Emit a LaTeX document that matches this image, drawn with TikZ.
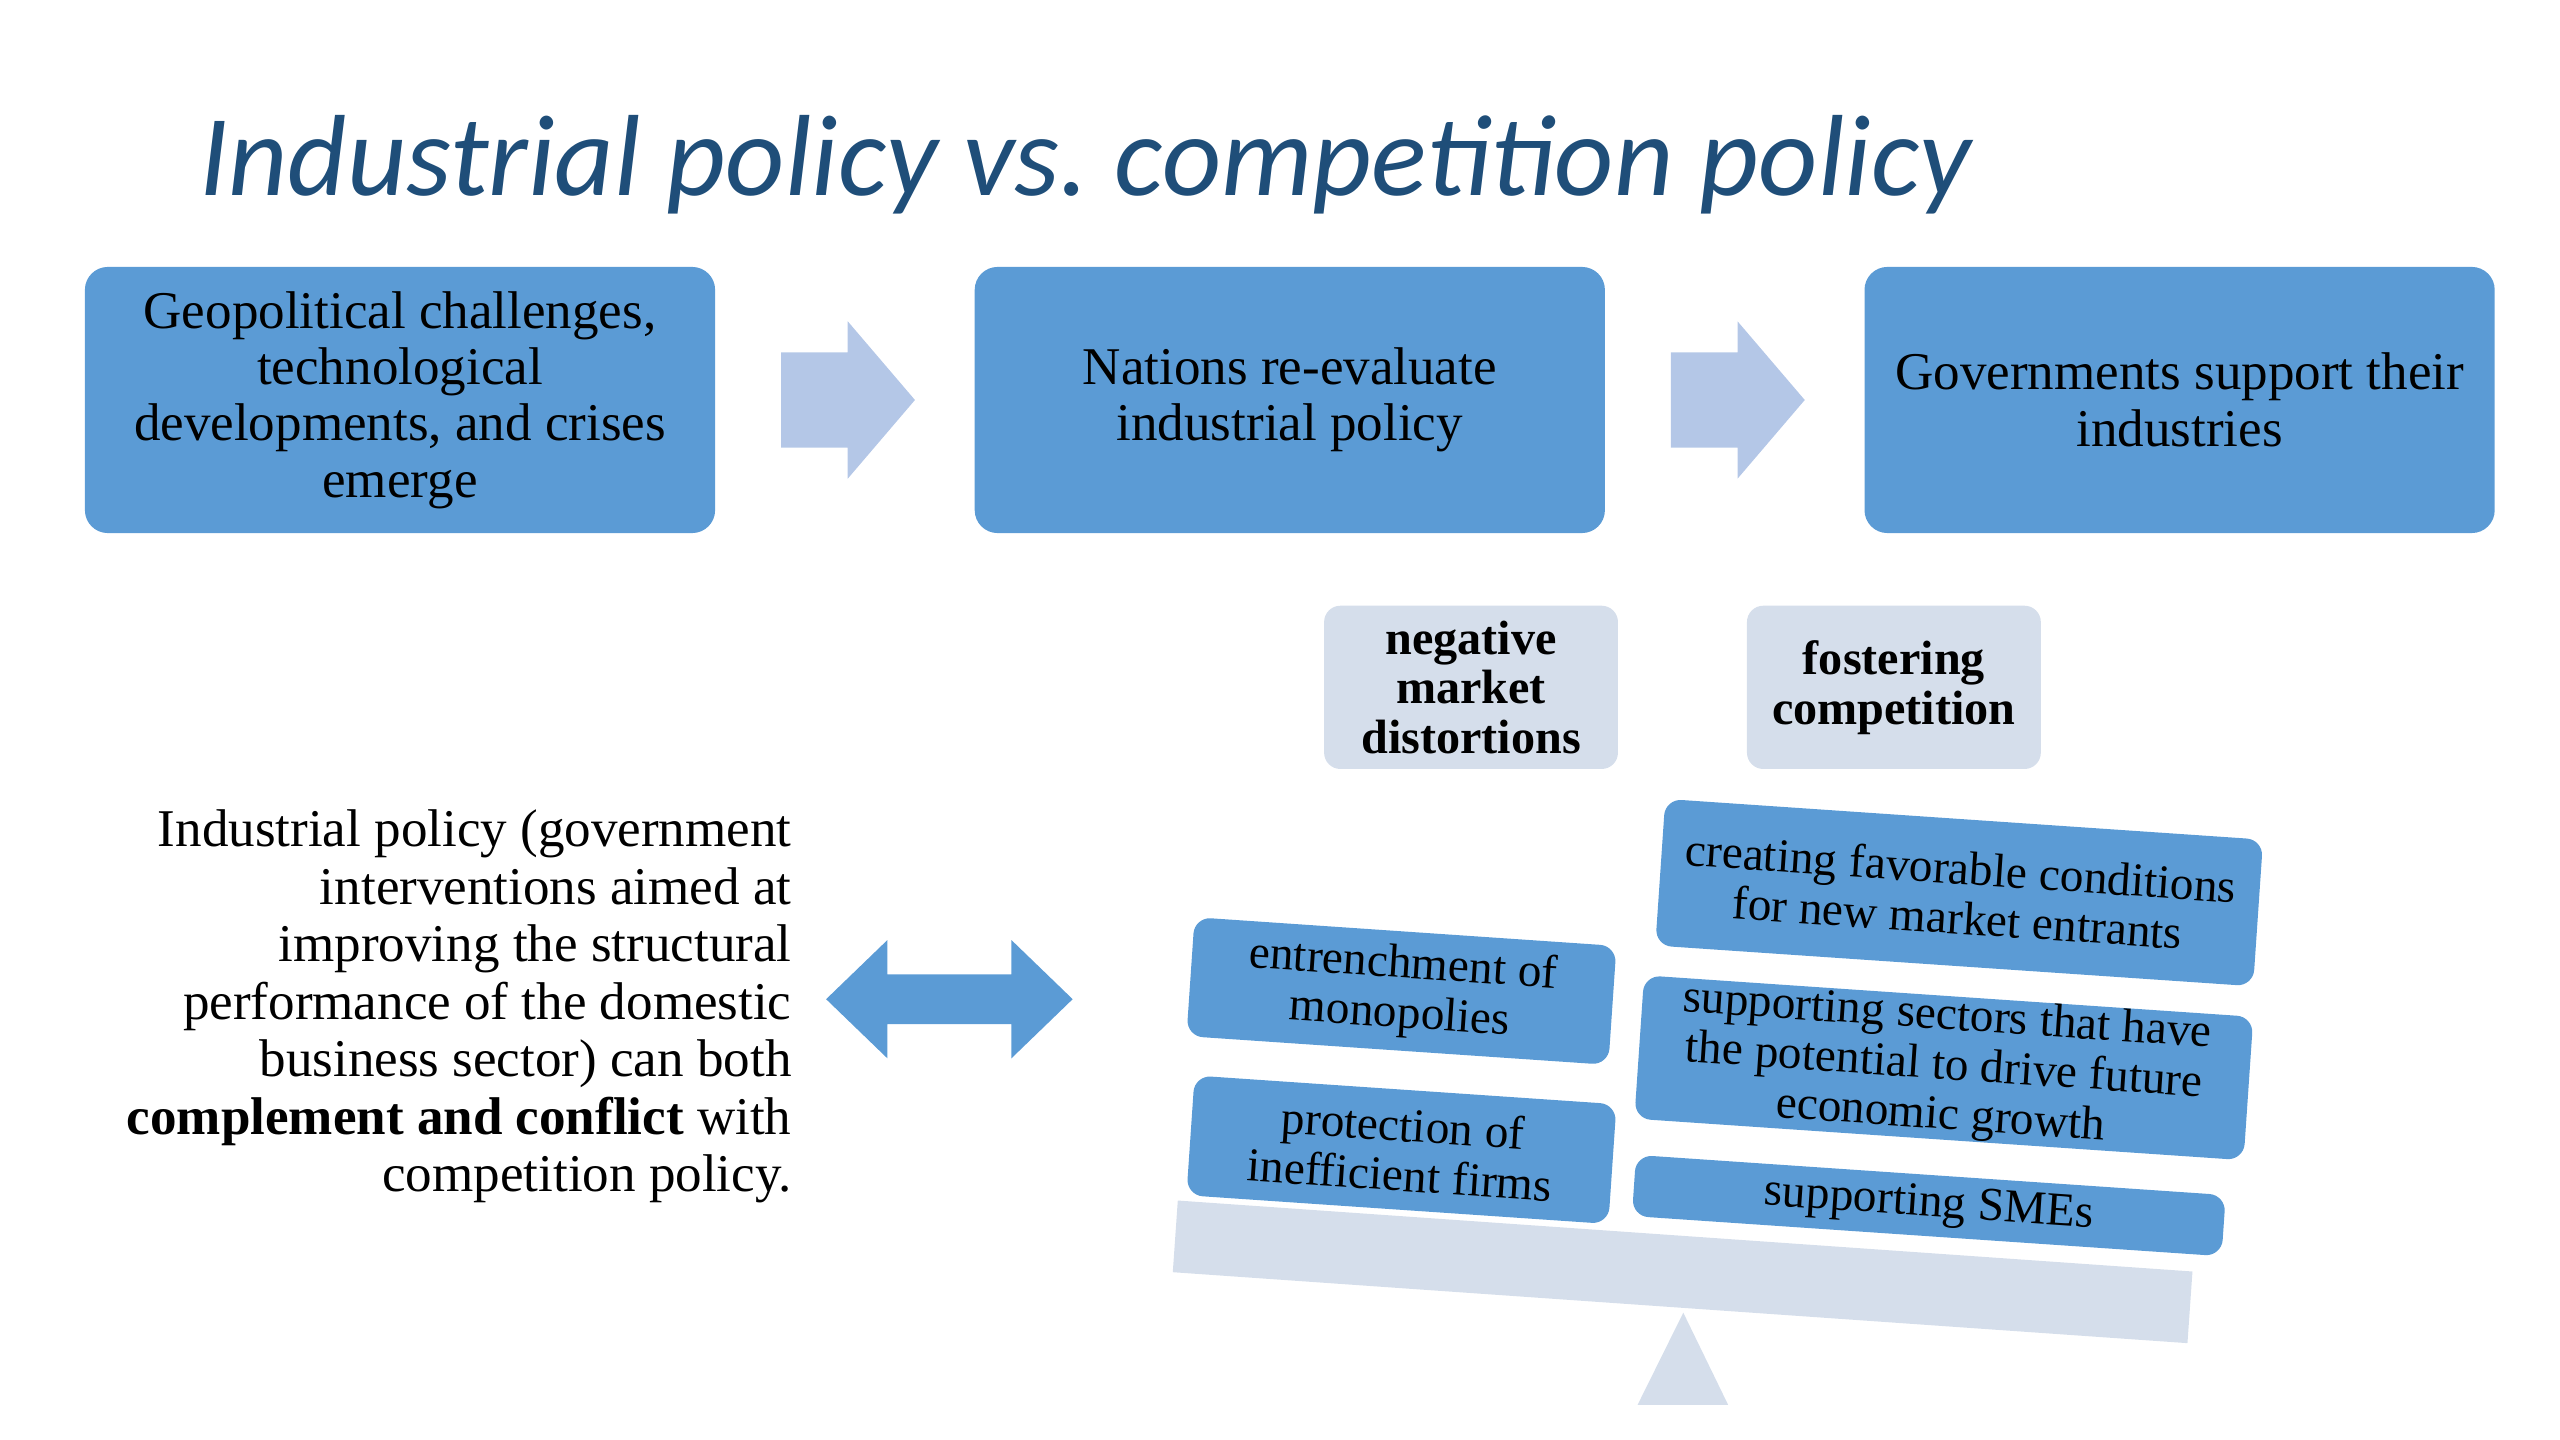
\documentclass[tikz,border=0pt]{standalone}
\usepackage{fontspec}
\setmainfont{Liberation Serif}
\newfontfamily\titlefont{Carlito}
\usepackage{xcolor}
\usetikzlibrary{arrows.meta,positioning,calc,shapes.arrows}

\definecolor{boxblue}{HTML}{5B9BD5}
\definecolor{flowblue}{HTML}{B4C7E7}
\definecolor{tagblue}{HTML}{D5DEEB}
\definecolor{titleblue}{HTML}{1F4E79}

\begin{document}
\begin{tikzpicture}[x=1pt, y=1pt,
  titletext/.style={font=\titlefont\itshape\fontsize{70.7}{80}\selectfont, text=titleblue, inner sep=0pt},
  stepbox/.style={fill=boxblue, rounded corners=14pt, align=center, minimum width=386pt, minimum height=163pt, inner sep=0pt, font=\fontsize{32.5}{34.5}\selectfont},
  flowarrow/.style={single arrow, fill=flowblue, minimum height=82pt, inner xsep=0pt, inner ysep=29pt, single arrow head extend=19pt, single arrow tip angle=99},
  tagbox/.style={fill=tagblue, rounded corners=10pt, align=center, minimum width=180pt, minimum height=100pt, inner sep=0pt, font=\bfseries\fontsize{29.5}{30.5}\selectfont},
  weight/.style={fill=boxblue, rotate=-3.9, rounded corners=10pt, align=center, inner sep=0pt, font=\fontsize{29}{30.5}\selectfont},
  beam/.style={fill=tagblue, rotate=-4, minimum width=623pt, minimum height=44pt, inner sep=0pt}]

\path[use as bounding box] (0,0) rectangle (1568,-882);

\node[titletext, anchor=base west] (title) at (122,-120) {Industrial policy vs.\ competition policy};

\node[stepbox] (geo) at (245,-245) {Geopolitical challenges,\\technological\\developments, and crises\\emerge};
\node[stepbox] (nations) at (790,-245) {Nations re-evaluate\\industrial policy};
\node[stepbox] (govs) at (1335,-245) {Governments support their\\industries};

\node[flowarrow, anchor=tail] (arrA) at ($(geo.east)+(40,0)$) {};
\node[flowarrow, anchor=tail] (arrB) at ($(nations.east)+(40,0)$) {};

\node[tagbox] (neg) at (901,-421) {negative\\market\\distortions};
\node[tagbox] (fost) at (1160,-421) {fostering\\competition};

\node[anchor=east, align=right, inner sep=0pt, font=\fontsize{32.5}{35.2}\selectfont] (claim) at (485,-616.5)
  {Industrial policy (government\\interventions aimed at\\improving the structural\\performance of the domestic\\business sector) can both\\\textbf{complement and conflict} with\\competition policy.};

\node[double arrow, fill=boxblue, minimum height=151pt, inner xsep=0pt, inner ysep=15pt, double arrow head extend=21pt, double arrow tip angle=88] (link) at (581.5,-612) {};

\node[beam] (bar) at (1030.6,-779) {};
\coordinate (pivot) at (1031,-804);
\fill[tagblue] (pivot) -- ++(-28,-56.5) -- ++(55.5,0) -- cycle;

\node[weight, minimum width=259pt, minimum height=73pt] (entrench) at (858.4,-607) {entrenchment of\\monopolies};
\node[weight, minimum width=259pt, minimum height=73.5pt] (protect) at (858.4,-704.2) {protection of\\inefficient firms};
\node[weight, minimum width=367pt, minimum height=90pt] (entrants) at (1200,-546.7) {creating favorable conditions\\for new market entrants};
\node[weight, minimum width=374pt, minimum height=88pt] (sectors) at (1190.6,-654) {supporting sectors that have\\the potential to drive future\\economic growth};
\node[weight, minimum width=362pt, minimum height=37.5pt] (smes) at (1181.4,-738.4) {supporting SMEs};
\end{tikzpicture}
\end{document}
